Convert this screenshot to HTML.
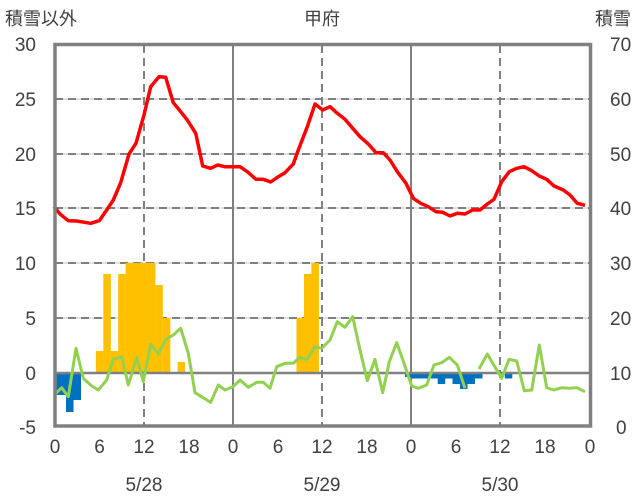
<!DOCTYPE html>
<html><head><meta charset="utf-8"><style>
html,body{margin:0;padding:0;background:#fff;}
svg{display:block;font-family:"Liberation Sans","Noto Sans CJK JP",sans-serif;}
</style></head><body>
<svg width="636" height="501" viewBox="0 0 636 501" xmlns="http://www.w3.org/2000/svg">
<g fill="#404040" font-size="19">
<text x="5" y="25" font-size="18">積雪以外</text>
<text x="322" y="25" font-size="18" text-anchor="middle">甲府</text>
<text x="631" y="25" font-size="18" text-anchor="end">積雪</text>
<g text-anchor="end">
<text x="36" y="51">30</text><text x="36" y="106">25</text><text x="36" y="161">20</text><text x="36" y="215">15</text>
<text x="36" y="270">10</text><text x="36" y="325">5</text><text x="36" y="380">0</text><text x="36" y="434">-5</text>
</g>
<g text-anchor="start">
<text x="610" y="51">70</text><text x="610" y="106">60</text><text x="610" y="161">50</text><text x="610" y="215">40</text>
<text x="610" y="270">30</text><text x="610" y="325">20</text><text x="610" y="380">10</text><text x="616" y="434">0</text>
</g>
<g text-anchor="middle">
<text x="55" y="453">0</text><text x="99.6" y="453">6</text><text x="144" y="453">12</text><text x="189" y="453">18</text>
<text x="233" y="453">0</text><text x="278" y="453">6</text><text x="322" y="453">12</text><text x="367" y="453">18</text>
<text x="411" y="453">0</text><text x="456" y="453">6</text><text x="500" y="453">12</text><text x="545" y="453">18</text>
<text x="590" y="453">0</text>
<text x="144" y="491">5/28</text><text x="322" y="491">5/29</text><text x="500" y="491">5/30</text>
</g>
</g>
<!-- grid -->
<g stroke="#d9d9d9" stroke-width="1.5">
<line x1="55" y1="99" x2="590" y2="99"/><line x1="55" y1="154" x2="590" y2="154"/><line x1="55" y1="208" x2="590" y2="208"/><line x1="55" y1="263" x2="590" y2="263"/><line x1="55" y1="318" x2="590" y2="318"/>
</g>
<g stroke="#808080" stroke-width="2" stroke-dasharray="8,5">
<line x1="55" y1="99" x2="590" y2="99"/><line x1="55" y1="154" x2="590" y2="154"/><line x1="55" y1="208" x2="590" y2="208"/><line x1="55" y1="263" x2="590" y2="263"/><line x1="55" y1="318" x2="590" y2="318"/>
<line x1="144" y1="45" x2="144" y2="426"/><line x1="322" y1="45" x2="322" y2="426"/><line x1="500" y1="45" x2="500" y2="426"/>
</g>
<g stroke="#808080" stroke-width="2">
<line x1="233" y1="45" x2="233" y2="426"/><line x1="411" y1="45" x2="411" y2="426"/>
</g>
<!-- bars -->
<g fill="#ffc000">
<rect x="95.9" y="351" width="7.5" height="22"/><rect x="103.3" y="274" width="7.5" height="99"/><rect x="110.7" y="351" width="7.5" height="22"/>
<rect x="118.2" y="274" width="7.5" height="99"/><rect x="125.6" y="263" width="29.8" height="110"/><rect x="155.3" y="285" width="7.5" height="88"/>
<rect x="162.8" y="318" width="7.5" height="55"/><rect x="177.6" y="362" width="7.5" height="11"/>
<rect x="296.5" y="318" width="7.5" height="55"/><rect x="304" y="274" width="7.5" height="99"/><rect x="311.4" y="263" width="7.5" height="110"/>
</g>
<g fill="#0070c0">
<rect x="55" y="373" width="11" height="22"/><rect x="66" y="373" width="7.5" height="39"/><rect x="73.5" y="373" width="7.5" height="27"/>
<rect x="411" y="373" width="71.5" height="5.5"/><rect x="437.7" y="373" width="7.5" height="11"/><rect x="452.5" y="373" width="7.5" height="11"/>
<rect x="460" y="373" width="7.5" height="16"/><rect x="467.5" y="373" width="7.5" height="11"/><rect x="504.8" y="373" width="7.5" height="5.5"/>
<rect x="405" y="373" width="6" height="4"/>
</g>
<line x1="55" y1="373" x2="590" y2="373" stroke="#808080" stroke-width="2.5"/>
<!-- green -->
<g fill="none" stroke="#92d050" stroke-width="3" stroke-linejoin="round">
<polyline points="54,395 61.7,387.7 68.3,396.7 76,348.3 83.3,378.3 91.7,386 98.3,390 106.7,380 113.3,359.3 121.7,356.7 128.3,385 136.7,357.3 143.3,381.7 150.7,344.3 158.3,354 166,339.3 173.3,335 180.7,328.3 188.3,353.3 195,392.7 210.7,402.3 218.3,385 225,390 233,386.7 240,380 248.3,387.3 256.7,382.3 263.3,382.3 270,388.3 276.7,366.7 285,363.3 293.3,363.3 300,357.3 306.7,360 315,346.7 321.7,348.3 330,340 337.3,321.7 345,327.3 352.7,316.7 360,350 367.3,380.7 375,359.3 382.7,392.7 389.3,361.7 396.7,342.7 404,363.3 411.7,386 418.3,388.3 426.7,385 434,365 441.7,362.7 449.3,357.3 457.3,365 465,388.3"/>
<polyline points="479,369 487.3,354 501.7,378.3 509,359.3 516.7,361 524.3,390.7 531.7,390 539.3,345 546.7,387.7 554,390 561.7,387.7 569.3,388.3 576.7,387.7 585,391.7"/>
</g>
<!-- red -->
<polyline fill="none" stroke="#ff0000" stroke-width="3.5" stroke-linejoin="round" points="54,206.7 60,214 68.3,220.7 76.7,221 90.7,223.3 99.3,220.7 106.7,210 113.3,200 120.7,182.7 129,154 136,143.3 144,115 150.7,86.7 159,76.7 165.7,77.3 173.3,102.7 180.7,111.7 187.3,120 195.7,133.3 202.7,166 210.7,168.3 217.7,165 225,166.7 240,166.7 247.3,171.7 256,179.3 263.3,179.3 270.7,182 278.3,176.7 285,172.7 293.3,164 298.3,150 307.3,126.7 315,104 322.7,110 330,106.7 337.3,113.3 345,119.3 352.7,128.3 360,136.7 368.3,144 376,152.7 383.3,152.7 390,160 397.3,171.7 406,183.3 413.3,198.3 420.7,203.3 428.3,206.7 436,211.7 442.7,212.3 450,216 457.3,213.3 465,214 472.7,210 480,210 487.3,204 494,199.3 501.7,181.7 509.3,171.7 516.7,168.3 524,166.7 531.7,170.7 539.3,176 546.7,179.3 554,186 563.3,190 570,195 577.3,203.3 585,205.3"/>
<!-- frame -->
<rect x="55" y="44.5" width="535.5" height="381.5" fill="none" stroke="#808080" stroke-width="3.5"/>
</svg>
</body></html>
